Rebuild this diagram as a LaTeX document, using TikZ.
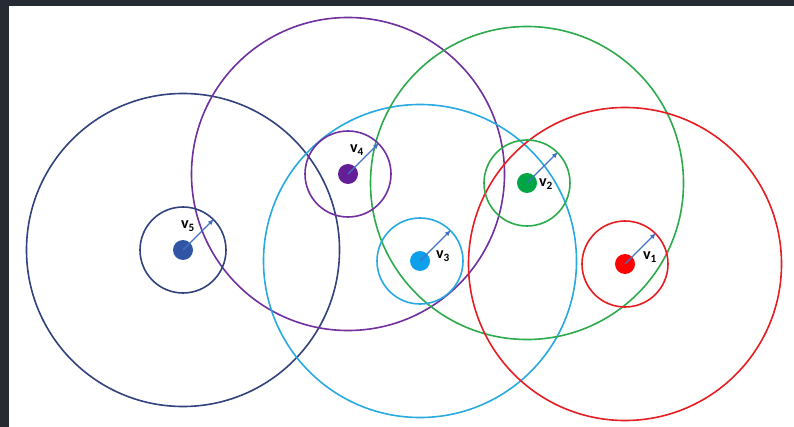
\documentclass[tikz,border=0pt]{standalone}
\usepackage{fontspec}
\setmainfont{Carlito}
\usetikzlibrary{arrows.meta}
\definecolor{frame}{RGB}{38,42,51}
\definecolor{arrowblue}{RGB}{68,114,196}
\definecolor{ringA}{RGB}{230,30,35}
\definecolor{dotA}{RGB}{255,0,0}
\definecolor{ringB}{RGB}{45,170,75}
\definecolor{dotB}{RGB}{0,166,70}
\definecolor{ringC}{RGB}{40,170,225}
\definecolor{dotC}{RGB}{15,160,235}
\definecolor{ringD}{RGB}{112,48,160}
\definecolor{dotD}{RGB}{100,30,150}
\definecolor{ringE}{RGB}{50,66,125}
\definecolor{dotE}{RGB}{47,85,164}
\tikzset{
  dot/.style={circle, minimum size=20pt, inner sep=0pt},
  ring/.style={circle, draw, line width=1.6pt, minimum size=86pt, inner sep=0pt},
  reach/.style={circle, draw, line width=1.6pt, minimum size=313pt, inner sep=0pt},
  radiusarrow/.style={draw=arrowblue, line width=1.2pt, -{Latex[length=6pt,width=5pt]}},
  vlabel/.style={font=\fontsize{16}{19}\selectfont\bfseries, inner sep=0pt},
}
\begin{document}
\begin{tikzpicture}[x=1pt, y=-1pt]
\fill[frame] (0,0) rectangle (794,427);
\fill[white] (9,6) rectangle (794,427);
\useasboundingbox (0,0) rectangle (794,427);
% transmission ranges
\node[reach, draw=ringE] (R5) at (183,250) {};
\node[reach, draw=ringD] (R4) at (348,174) {};
\node[reach, draw=ringC] (R3) at (420,261) {};
\node[reach, draw=ringB] (R2) at (527,183) {};
\node[reach, draw=ringA] (R1) at (625,264) {};
% nodes
\node[dot, fill=dotE] (v5) at (183,250) {};
\node[dot, fill=dotD] (v4) at (348,174) {};
\node[dot, fill=dotC] (v3) at (420,261) {};
\node[dot, fill=dotB] (v2) at (527,183) {};
\node[dot, fill=dotA] (v1) at (625,264) {};
\node[ring, draw=ringE] (r5) at (v5) {};
\node[ring, draw=ringD] (r4) at (v4) {};
\node[ring, draw=ringC] (r3) at (v3) {};
\node[ring, draw=ringB] (r2) at (v2) {};
\node[ring, draw=ringA] (r1) at (v1) {};
% radii
\draw[radiusarrow] (v5.center) -- (r5.45);
\draw[radiusarrow] (v4.center) -- (r4.45);
\draw[radiusarrow] (v3.center) -- (r3.45);
\draw[radiusarrow] (v2.center) -- (r2.45);
\draw[radiusarrow] (v1.center) -- (r1.45);
% labels
\node[vlabel] (l5) at (188,226) {v\textsubscript{5}};
\node[vlabel] (l4) at (357,150) {v\textsubscript{4}};
\node[vlabel] (l3) at (443,256) {v\textsubscript{3}};
\node[vlabel] (l2) at (546,184) {v\textsubscript{2}};
\node[vlabel] (l1) at (650,257) {v\textsubscript{1}};
\end{tikzpicture}
\end{document}
